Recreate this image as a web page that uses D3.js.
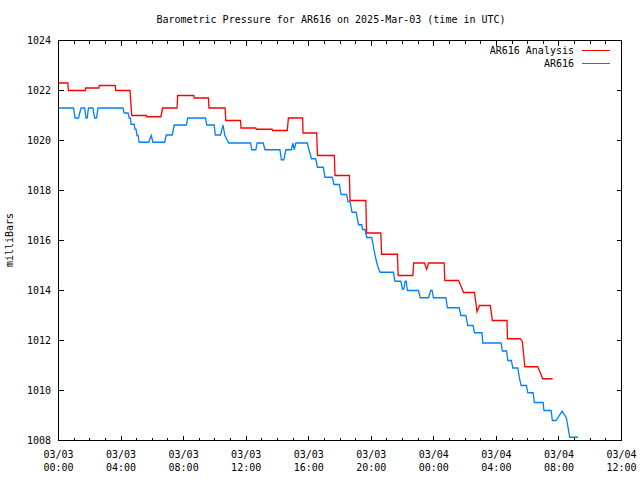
<!DOCTYPE html>
<html>
<head>
<meta charset="utf-8">
<script src="https://cdn.jsdelivr.net/npm/d3@7"></script>
<style>
  html, body { margin: 0; padding: 0; background: #fff; }
  svg text { font-family: "DejaVu Sans Mono", "Liberation Mono", monospace; font-size: 10px; fill: #000; }
</style>
</head>
<body>
<svg id="chart" width="640" height="480"></svg>
<script>
// ---- data (hours since 2025-03-03 00:00 UTC, pressure in mb) ----
const analysisHours = [0.00, 0.60, 0.63, 1.71, 1.74, 2.58, 2.61, 3.63, 3.66, 4.57, 4.68, 5.62, 5.65, 6.55, 6.66,
  7.58, 7.62, 8.65, 8.68, 9.59, 9.62, 10.65, 10.70, 11.64, 11.67, 12.62, 12.65, 13.66, 13.70, 14.63, 14.70,
  15.61, 15.64, 16.51, 16.56, 17.64, 17.68, 18.60, 18.64, 19.65, 19.70, 20.61, 20.66, 21.67, 21.72, 22.66, 22.71,
  23.40, 23.54, 23.67, 24.66, 24.70, 25.58, 25.72, 25.90, 26.60, 26.76, 26.92, 27.61, 27.74, 28.68, 28.71,
  29.53, 29.66, 29.82, 30.64, 30.78, 30.96, 31.60];
const analysisValues = [1022.3, 1022.3, 1022.0, 1022.0, 1022.1, 1022.1, 1022.2, 1022.2, 1022.0, 1022.0, 1021.0, 1021.0, 1020.95, 1020.95, 1021.3,
  1021.3, 1021.8, 1021.8, 1021.7, 1021.7, 1021.3, 1021.3, 1020.8, 1020.8, 1020.5, 1020.5, 1020.45, 1020.45, 1020.4, 1020.4, 1020.9,
  1020.9, 1020.3, 1020.3, 1019.4, 1019.4, 1018.6, 1018.6, 1017.6, 1017.6, 1016.3, 1016.3, 1015.45, 1015.45, 1014.6, 1014.6, 1015.1,
  1015.1, 1014.85, 1015.1, 1015.1, 1014.4, 1014.4, 1014.2, 1013.92, 1013.92, 1013.15, 1013.4, 1013.4, 1012.8, 1012.8, 1012.07,
  1012.07, 1011.95, 1010.95, 1010.95, 1010.75, 1010.47, 1010.47];

const ar616Hours = [0.00, 0.96, 1.06, 1.28, 1.44, 1.67, 1.76, 1.83, 1.92, 2.20, 2.31, 2.43, 2.53, 4.12, 4.20, 4.45, 4.52, 4.59,
  4.64, 4.84, 4.89, 4.96, 5.02, 5.09, 5.16, 5.77, 5.93, 6.04, 6.79, 6.89, 7.27, 7.40, 8.18, 8.26, 9.40, 9.48, 9.95, 10.03,
  10.36, 10.52, 10.63, 10.76, 10.89, 12.28, 12.36, 12.62, 12.70, 13.09, 13.20, 14.16, 14.25, 14.41, 14.54, 14.89, 14.99,
  15.07, 15.18, 15.91, 16.01, 16.18, 16.44, 16.56, 16.93, 17.04, 17.51, 17.62, 17.96, 18.07, 18.43, 18.51, 18.64, 18.77,
  19.03, 19.19, 19.39, 19.44, 19.60, 19.71, 20.03, 20.15, 20.28, 20.40, 20.56, 21.42, 21.51, 21.89, 22.00, 22.07, 22.17,
  22.23, 22.31, 23.02, 23.13, 23.66, 23.80, 23.89, 23.98, 24.77, 24.87, 25.62, 25.73, 26.05, 26.17, 26.51, 26.60, 27.08,
  27.13, 28.30, 28.38, 28.65, 28.73, 28.96, 29.05, 29.37, 29.47, 29.58, 29.92, 30.01, 30.35, 30.43, 30.99, 31.04, 31.50,
  31.58, 31.82, 32.20, 32.38, 32.48, 32.69, 33.22];
const ar616Values = [1021.3, 1021.3, 1020.9, 1020.9, 1021.3, 1021.3, 1020.9, 1020.9, 1021.3, 1021.3, 1020.9, 1020.9, 1021.3, 1021.3, 1021.1, 1021.1, 1020.9, 1020.9,
  1020.65, 1020.65, 1020.45, 1020.45, 1020.2, 1020.2, 1019.93, 1019.93, 1020.2, 1019.93, 1019.93, 1020.22, 1020.22, 1020.62, 1020.62, 1020.9, 1020.9, 1020.62, 1020.62, 1020.22,
  1020.22, 1020.62, 1020.22, 1020.05, 1019.9, 1019.9, 1019.63, 1019.63, 1019.9, 1019.9, 1019.63, 1019.63, 1019.23, 1019.23, 1019.63, 1019.63, 1019.9,
  1019.63, 1019.9, 1019.9, 1019.63, 1019.27, 1019.27, 1018.93, 1018.93, 1018.53, 1018.53, 1018.24, 1018.24, 1017.84, 1017.84, 1017.56, 1017.56, 1017.13,
  1017.13, 1016.63, 1016.63, 1016.44, 1016.44, 1016.12, 1016.12, 1015.7, 1015.3, 1015.0, 1014.73, 1014.73, 1014.37, 1014.37, 1014.05, 1014.05, 1014.37,
  1014.37, 1014.0, 1014.0, 1013.71, 1013.71, 1014.0, 1014.0, 1013.71, 1013.71, 1013.31, 1013.31, 1013.0, 1013.0, 1012.6, 1012.6, 1012.31, 1012.31,
  1011.9, 1011.9, 1011.58, 1011.58, 1011.2, 1011.2, 1010.9, 1010.9, 1010.5, 1010.2, 1010.2, 1009.91, 1009.91, 1009.52, 1009.52, 1009.2, 1009.2,
  1008.8, 1008.8, 1009.17, 1009.0, 1008.89, 1008.13, 1008.13];

const xTickDates = ["03/03", "03/03", "03/03", "03/03", "03/03", "03/03", "03/04", "03/04", "03/04", "03/04"];
const xTickTimes = ["00:00", "04:00", "08:00", "12:00", "16:00", "20:00", "00:00", "04:00", "08:00", "12:00"];
const yTicks = [1008, 1010, 1012, 1014, 1016, 1018, 1020, 1022, 1024];
const seriesNames = ["AR616 Analysis", "AR616"];
const seriesColors = ["#ff0000", "#0080ff"];

// ---- layout ----
const L = 58.5, R = 621.5, T = 40.5, B = 440.5;
const start = Date.UTC(2025, 2, 3, 0, 0);
const toDate = h => new Date(start + h * 3600e3);

const svg = d3.select("#chart");
const x = d3.scaleUtc().domain([toDate(0), toDate(36)]).range([L, R]);
const y = d3.scaleLinear().domain([1008, 1024]).range([B, T]);

// title
svg.append("text").attr("x", 331).attr("y", 23).attr("text-anchor", "middle")
  .text("Barometric Pressure for AR616 on 2025-Mar-03 (time in UTC)");

// y label
svg.append("text").attr("transform", "translate(13,240) rotate(-90)").attr("text-anchor", "middle")
  .text("milliBars");

// ticks
const g = svg.append("g").attr("stroke", "#000").attr("stroke-width", 1).attr("shape-rendering", "crispEdges");
const hours = d3.range(0, 37);
hours.forEach(h => {
  const len = h % 4 === 0 ? 5 : 3;
  const xx = Math.round(x(toDate(h)) - 0.5) + 0.5;
  g.append("line").attr("x1", xx).attr("x2", xx).attr("y1", B).attr("y2", B - len);
  g.append("line").attr("x1", xx).attr("x2", xx).attr("y1", T).attr("y2", T + len);
});
yTicks.forEach(v => {
  const yy = Math.round(y(v) - 0.5) + 0.5;
  g.append("line").attr("x1", L).attr("x2", L + 5).attr("y1", yy).attr("y2", yy);
  g.append("line").attr("x1", R).attr("x2", R - 5).attr("y1", yy).attr("y2", yy);
  svg.append("text").attr("x", 51).attr("y", yy + 3.5).attr("text-anchor", "end").text(v);
});
xTickDates.forEach((d, i) => {
  const xx = x(toDate(i * 4));
  const t = svg.append("text").attr("text-anchor", "middle");
  t.append("tspan").attr("x", xx).attr("y", 458).text(d);
  t.append("tspan").attr("x", xx).attr("y", 471).text(xTickTimes[i]);
});

// border
g.append("rect").attr("x", L).attr("y", T).attr("width", R - L).attr("height", B - T).attr("fill", "none");

// lines
const line = d3.line().x(d => x(toDate(d[0]))).y(d => y(d[1]));
const series = [
  d3.zip(analysisHours, analysisValues),
  d3.zip(ar616Hours, ar616Values)
];
series.forEach((s, i) => {
  svg.append("path").datum(s).attr("d", line).attr("fill", "none")
    .attr("stroke", seriesColors[i]).attr("stroke-width", 1.3).attr("stroke-linejoin", "miter");
});

// legend
seriesNames.forEach((n, i) => {
  const yy = 50 + i * 13;
  svg.append("text").attr("x", 574).attr("y", yy + 3.5).attr("text-anchor", "end").text(n);
  svg.append("line").attr("x1", 582).attr("x2", 610).attr("y1", yy + 0.5).attr("y2", yy + 0.5)
    .attr("stroke", seriesColors[i]).attr("stroke-width", 1).attr("shape-rendering", "crispEdges");
});
</script>
</body>
</html>
